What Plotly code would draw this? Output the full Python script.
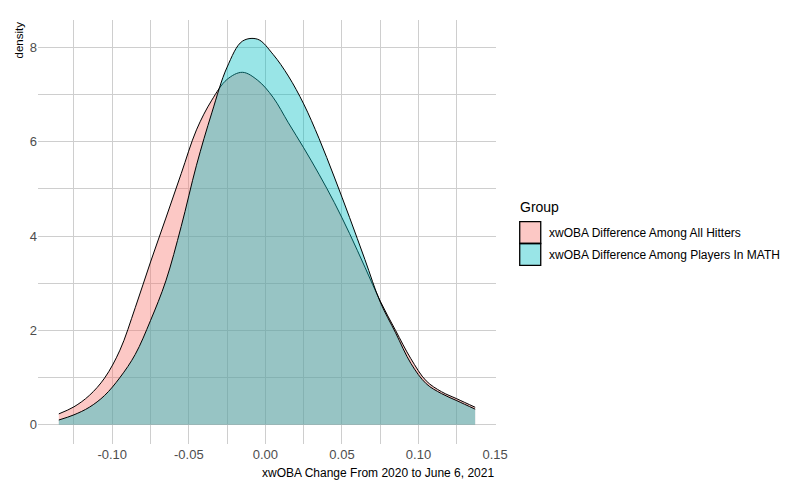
import plotly.graph_objects as go

# ---- data (density curves, read at 0.01 steps) ----
x_all_hitters = [-0.1349, -0.125, -0.115, -0.105, -0.095, -0.085, -0.075, -0.065,
                 -0.055, -0.045, -0.035, -0.025, -0.015, -0.005, 0.005, 0.015,
                 0.025, 0.035, 0.045, 0.055, 0.065, 0.075, 0.085, 0.095,
                 0.105, 0.115, 0.125, 0.137]
y_all_hitters = [0.23, 0.38, 0.62, 0.99, 1.58, 2.48, 3.45, 4.38,
                 5.32, 6.25, 6.88, 7.32, 7.47, 7.30, 6.94, 6.40,
                 5.87, 5.31, 4.71, 4.05, 3.34, 2.62, 2.00, 1.40,
                 0.93, 0.70, 0.55, 0.37]

x_math = [-0.1349, -0.125, -0.115, -0.105, -0.095, -0.085, -0.075, -0.065,
          -0.055, -0.045, -0.035, -0.025, -0.015, -0.005, 0.005, 0.015,
          0.025, 0.035, 0.045, 0.055, 0.065, 0.075, 0.085, 0.095,
          0.105, 0.115, 0.125, 0.137]
y_math = [0.10, 0.21, 0.37, 0.62, 1.00, 1.49, 2.21, 3.05,
          4.20, 5.50, 6.61, 7.58, 8.13, 8.17, 7.85, 7.39,
          6.80, 6.07, 5.25, 4.39, 3.50, 2.60, 1.95, 1.30,
          0.87, 0.66, 0.51, 0.33]

group_names = ["xwOBA Difference Among All Hitters", "xwOBA Difference Among Players In MATH"]
group_fills = ["rgba(248,118,109,0.4)", "rgba(0,191,196,0.4)"]

x_tick_vals = [-0.10, -0.05, 0.00, 0.05, 0.10, 0.15]
x_tick_text = ["-0.10", "-0.05", "0.00", "0.05", "0.10", "0.15"]
y_tick_vals = [0, 2, 4, 6, 8]
y_tick_text = ["0", "2", "4", "6", "8"]

x_title = "xwOBA Change From 2020 to June 6, 2021"
y_title = "density"
legend_title = "Group"

# ---- figure ----
FONT = "Liberation Sans, Arial, sans-serif"
GRID = "rgb(206,206,206)"

fig = go.Figure()
for xs, ys, name, fc in [(x_all_hitters, y_all_hitters, group_names[0], group_fills[0]),
                         (x_math, y_math, group_names[1], group_fills[1])]:
    fig.add_trace(go.Scatter(x=xs, y=ys, mode="lines", name=name,
                             line=dict(color="black", width=1, shape="spline", smoothing=1.0),
                             fill="tozeroy", fillcolor=fc, showlegend=False,
                             hoverinfo="skip"))

xmin = min(min(x_all_hitters), min(x_math))
xmax = max(max(x_all_hitters), max(x_math))
xpad = 0.05 * (xmax - xmin)
ymax = max(max(y_all_hitters), max(y_math))
ypad = 0.05 * ymax

x_minor = [-0.125, -0.075, -0.025, 0.025, 0.075, 0.125]
y_minor = [1, 3, 5, 7]

fig.update_layout(
    width=789, height=484,
    margin=dict(l=38, r=293, t=20, b=40),
    paper_bgcolor="white", plot_bgcolor="white",
    font=dict(family=FONT, color="rgb(77,77,77)", size=13),
    xaxis=dict(range=[xmin - xpad, xmax + xpad], tickvals=x_tick_vals, ticktext=x_tick_text,
               showgrid=True, gridcolor=GRID, gridwidth=1, zeroline=False, showline=False,
               ticks="", ticklabelstandoff=1, tickfont=dict(size=13, color="rgb(77,77,77)"),
               minor=dict(tickvals=x_minor, showgrid=True, gridcolor=GRID, gridwidth=1)),
    yaxis=dict(range=[-ypad, ymax + ypad], tickvals=y_tick_vals, ticktext=y_tick_text,
               showgrid=True, gridcolor=GRID, gridwidth=1, zeroline=False, showline=False,
               ticks="", tickfont=dict(size=13, color="rgb(77,77,77)"),
               minor=dict(tickvals=y_minor, showgrid=True, gridcolor=GRID, gridwidth=1)),
)

# axis titles (right / top aligned as in reference)
fig.add_annotation(text=x_title, xref="paper", yref="paper", x=1.0, y=0, yshift=-29,
                   xanchor="right", yanchor="middle", showarrow=False,
                   font=dict(family=FONT, size=12, color="black"))
fig.add_annotation(text=y_title, xref="paper", yref="paper", x=0, xshift=-20, y=1.0,
                   xanchor="center", yanchor="top", textangle=-90, showarrow=False,
                   font=dict(family=FONT, size=11.5, color="black"))

# legend drawn manually (ggplot-style square keys)
PW, PH = 457.6, 424.0
def px_x(px):
    return (px - 38.2) / PW
def px_y(py):
    return (444.0 - py) / PH

fig.add_annotation(text=legend_title, xref="paper", yref="paper", x=px_x(518), y=px_y(207),
                   xanchor="left", yanchor="middle", showarrow=False,
                   font=dict(family=FONT, size=14, color="black"))
key_tops = [221.7, 243.5]
for i, (name, fc) in enumerate(zip(group_names, group_fills)):
    top = key_tops[i]
    fig.add_shape(type="rect", xref="paper", yref="paper",
                  x0=px_x(519.5), x1=px_x(540.5), y0=px_y(top + 21.8), y1=px_y(top),
                  fillcolor=fc, line=dict(color="black", width=1.3))
    fig.add_annotation(text=name, xref="paper", yref="paper", x=px_x(547), y=px_y(top + 11),
                       xanchor="left", yanchor="middle", showarrow=False,
                       font=dict(family=FONT, size=12, color="black"))

fig.write_html("out.html")
